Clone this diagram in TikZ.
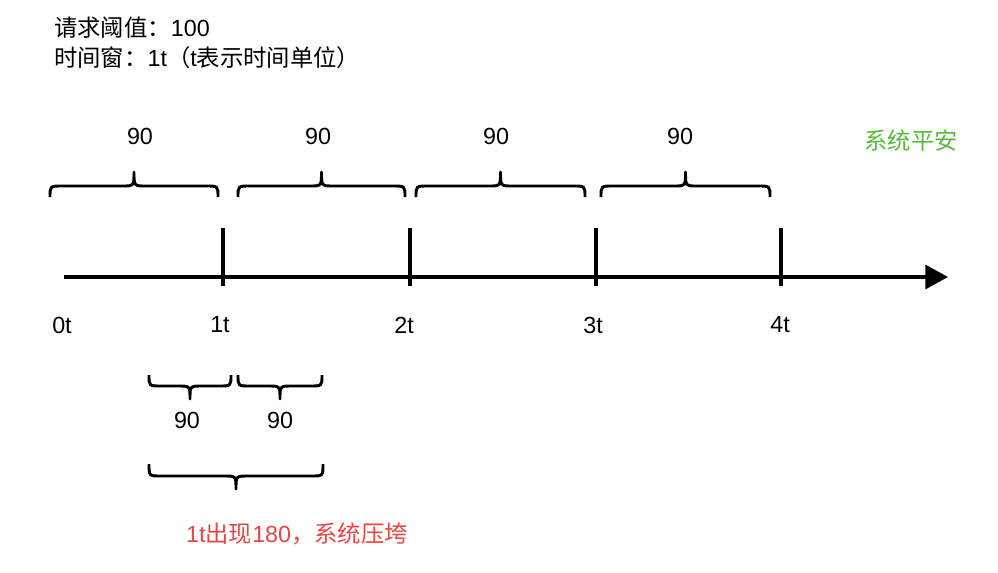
\documentclass[tikz,border=0pt]{standalone}
\usepackage{fontspec}
\setmainfont{Liberation Sans}
\newfontfamily\cjk{Noto Sans CJK SC}
\usepackage{xcolor}
\usetikzlibrary{arrows.meta}
\definecolor{safegreen}{HTML}{55BB38}
\definecolor{downred}{HTML}{EA4541}
\newcommand{\zh}[1]{{\cjk #1}}
% curly bracket: left x, right x, end y, bar y, tip y
\newcommand{\curly}[5]{%
  \draw[bracket] (#1,#3) .. controls (#1,#4) .. ({#1+12},#4)
    -- ({(#1+#2)/2-12},#4) .. controls ({(#1+#2)/2},#4) .. ({(#1+#2)/2},#5)
    .. controls ({(#1+#2)/2},#4) .. ({(#1+#2)/2+12},#4)
    -- ({#2-12},#4) .. controls (#2,#4) .. (#2,#3);}

\begin{document}
\begin{tikzpicture}[x=0.75pt, y=-0.75pt,
  font=\fontsize{17.5}{21}\selectfont,
  bar/.style={line width=2.3pt},
  bracket/.style={line width=2.2pt, line join=round},
  txt/.style={inner sep=0pt, anchor=base west}]
\useasboundingbox (0,0) rectangle (998,572);
% heading
\node[txt] (thr) at (54,36) {\zh{请求阈值：}100};
\node[txt] (win) at (54,66) {\zh{时间窗：}1t\zh{（}t\zh{表示时间单位）}};
% time axis
\coordinate (o) at (64,277);
\coordinate (e) at (948,277);
\draw[bar, -{Triangle[length=17pt, width=18pt]}] (o) -- (e);
\foreach \x/\n in {223/1, 410/2, 596/3, 781/4}
  \draw[bar] (\x,228) -- (\x,286);
\foreach \x/\n in {62/0, 220/1, 404/2, 593/3, 780/4}
  \node (t\n) at (\x,325) {\n t};
% windows above the axis
\foreach \a/\b/\c/\i in {50/218/140/1, 238/405/318/2, 416/585/496/3, 601/770/680/4} {
  \curly{\a}{\b}{197}{186}{172}
  \node (w\i) at (\c,136) {90};
}
\node[text=safegreen] (ok) at (911,141) {\zh{系统平安}};
% across the 1t boundary
\curly{149}{231}{375}{386}{399}
\curly{238}{322}{375}{386}{399}
\node (h1) at (187,420) {90};
\node (h2) at (280,420) {90};
\curly{149}{323}{464}{476}{489}
\node[text=downred] (down) at (297,534) {1t\zh{出现}180\zh{，系统压垮}};
\end{tikzpicture}
\end{document}
